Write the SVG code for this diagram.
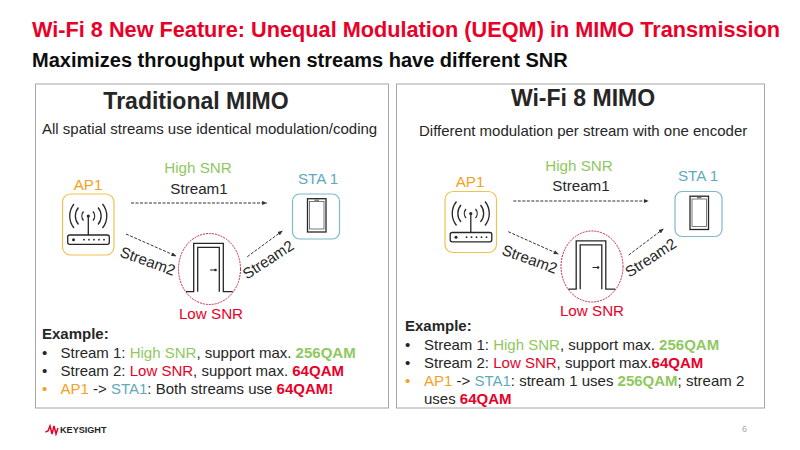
<svg xmlns="http://www.w3.org/2000/svg" width="800" height="450" viewBox="0 0 800 450">
<style>
text{font-family:"Liberation Sans",Arial,sans-serif;fill:#262626}
.panel{fill:#fff;stroke:#a6a6a6;stroke-width:1}
.t{font-size:15px}
.l{font-size:15.200px}
.m{text-anchor:middle}
.b{font-weight:bold}
.gl{fill:#8fc85f}
.r{fill:#e90029}
.o{fill:#f4a11d}
.c{fill:#5fa9bd}
.ic{fill:none;stroke:#262626;stroke-width:1.300}
.fl{stroke:#333;stroke-width:1;stroke-dasharray:3 1.500;fill:none;marker-end:url(#a)}
</style>
<defs>
<marker id="a" viewBox="0 0 6 6" refX="5.500" refY="3" markerWidth="5" markerHeight="5" markerUnits="userSpaceOnUse" orient="auto"><path d="M0 0.500L6 3L0 5.500z" fill="#333"/></marker>
<g id="ap">
<rect x="62.500" y="194" width="51.500" height="61" rx="8" fill="#fff" stroke="#f2c14e" stroke-width="1.200"/>
<path class="ic" d="M88.300 216V235M83.500 211.500a7 7 0 0 0 0 9M93 211.500a7 7 0 0 1 0 9M78.500 207.500a13 13 0 0 0 0 17M98 207.500a13 13 0 0 1 0 17M74 204a19 19 0 0 0 0 24M102.500 204a19 19 0 0 1 0 24"/>
<circle cx="88.300" cy="216" r="1.600" fill="#262626"/>
<rect x="67.700" y="235" width="41.600" height="9.300" rx="2" class="ic"/>
<circle cx="73.500" cy="239.700" r="1.500" fill="#262626"/>
<circle cx="84" cy="239.700" r="0.900" fill="#262626"/><circle cx="89" cy="239.700" r="0.900" fill="#262626"/><circle cx="94" cy="239.700" r="0.900" fill="#262626"/><circle cx="99" cy="239.700" r="0.900" fill="#262626"/><circle cx="104" cy="239.700" r="0.900" fill="#262626"/>
</g>
<g id="sta">
<rect x="292.500" y="194" width="47" height="45" rx="7" fill="#fff" stroke="#7fb8c8" stroke-width="1.200"/>
<rect x="307.500" y="198.700" width="18.500" height="33.300" class="ic"/>
<rect x="309.500" y="201.500" width="14.500" height="27.500" fill="none" stroke="#595959" stroke-width="0.800"/>
<path d="M314.500 200.200H319" stroke="#262626" stroke-width="0.800"/>
</g>
<g id="door">
<ellipse cx="209.500" cy="269" rx="31" ry="35.500" fill="#fff" stroke="#c8234f" stroke-width="1" stroke-dasharray="2 1"/>
<path class="ic" d="M186 291.700H193.700V243.300H223.300V291.700H232.700M197.700 291.700V247.300H219.300V291.700"/>
<path d="M210 270H215" stroke="#262626" stroke-width="1"/><circle cx="215.500" cy="270" r="1.300" fill="#262626"/>
</g>
</defs>

<text x="32" y="37" font-size="21.700" class="b r">Wi-Fi 8 New Feature: Unequal Modulation (UEQM) in MIMO Transmission</text>
<text x="32" y="67" font-size="20" class="b" style="fill:#0d0d0d">Maximizes throughput when streams have different SNR</text>

<rect class="panel" x="35.500" y="84" width="353" height="324"/>
<rect class="panel" x="396.500" y="84" width="368" height="324"/>

<text x="196" y="109" font-size="23" class="b m">Traditional MIMO</text>
<text x="42" y="134" class="t">All spatial streams use identical modulation/coding</text>
<text x="583" y="106" font-size="23" class="b m">Wi-Fi 8 MIMO</text>
<text x="419" y="136" class="t">Different modulation per stream with one encoder</text>

<g id="connectors">
<path class="fl" d="M131 203H266.700"/>
<path class="fl" d="M126 234L176 256"/>
<path class="fl" d="M247.300 256.700L282.300 231"/>
<path class="fl" d="M513.300 201H648.300"/>
<path class="fl" d="M508.300 231.700L558.300 254"/>
<path class="fl" d="M628.700 255L663.300 229"/>
</g>

<g id="ap-left"><use href="#ap"/><text x="88" y="190" class="l m o">AP1</text></g>
<g id="sta-left"><use href="#sta"/><text x="318" y="184" class="l m c">STA 1</text></g>
<g id="door-left"><use href="#door"/><text x="211" y="319" class="l m r">Low SNR</text></g>
<g id="ap-right"><use href="#ap" transform="translate(382.500 -2.500)"/><text x="470" y="187" class="l m o">AP1</text></g>
<g id="sta-right"><use href="#sta" transform="translate(382.500 -2.500)"/><text x="698" y="181" class="l m c">STA 1</text></g>
<g id="door-right"><use href="#door" transform="translate(382.500 -2.500)"/><text x="592" y="316" class="l m r">Low SNR</text></g>

<g id="labels">
<text x="198" y="173" class="l m gl">High SNR</text>
<text x="199" y="194" class="l m">Stream1</text>
<text class="l m" transform="translate(146 266) rotate(20)">Stream2</text>
<text class="l m" transform="translate(271 264) rotate(-33)">Stream2</text>
<text x="579" y="171" class="l m gl">High SNR</text>
<text x="581" y="191" class="l m">Stream1</text>
<text class="l m" transform="translate(528 264) rotate(20)">Stream2</text>
<text class="l m" transform="translate(653.500 262) rotate(-33)">Stream2</text>
</g>

<g id="example-left">
<text x="42" y="339" class="t b">Example:</text>
<text x="42" y="357.500" class="t">•</text><text x="60.500" y="357.500" class="t">Stream 1: <tspan class="gl">High SNR</tspan>, support max. <tspan class="gl b">256QAM</tspan></text>
<text x="42" y="375.500" class="t">•</text><text x="60.500" y="375.500" class="t">Stream 2: <tspan class="r">Low SNR</tspan>, support max. <tspan class="r b">64QAM</tspan></text>
<text x="42" y="394" class="t o">•</text><text x="60.500" y="394" class="t"><tspan class="o">AP1</tspan> -&gt; <tspan class="c">STA1</tspan>: Both streams use <tspan class="r b">64QAM!</tspan></text>
</g>
<g id="example-right">
<text x="405" y="331" class="t b">Example:</text>
<text x="405" y="349.500" class="t">•</text><text x="424" y="349.500" class="t">Stream 1: <tspan class="gl">High SNR</tspan>, support max. <tspan class="gl b">256QAM</tspan></text>
<text x="405" y="367.500" class="t">•</text><text x="424" y="367.500" class="t">Stream 2: <tspan class="r">Low SNR</tspan>, support max.<tspan class="r b">64QAM</tspan></text>
<text x="405" y="385.500" class="t o">•</text><text x="424" y="385.500" class="t"><tspan class="o">AP1</tspan> -&gt; <tspan class="c">STA1</tspan>: stream 1 uses <tspan class="gl b">256QAM</tspan>; stream 2</text>
<text x="424" y="403.500" class="t">uses <tspan class="r b">64QAM</tspan></text>
</g>

<path d="M45.500 432L48 431L50 426L52 434L54 426L56 434L58 428" fill="none" stroke="#e90029" stroke-width="1.500"/>
<text x="60" y="432.500" font-size="9.100" class="b">KEYSIGHT</text>
<text x="742" y="431.500" font-size="9" style="fill:#a6a6a6">6</text>
</svg>
